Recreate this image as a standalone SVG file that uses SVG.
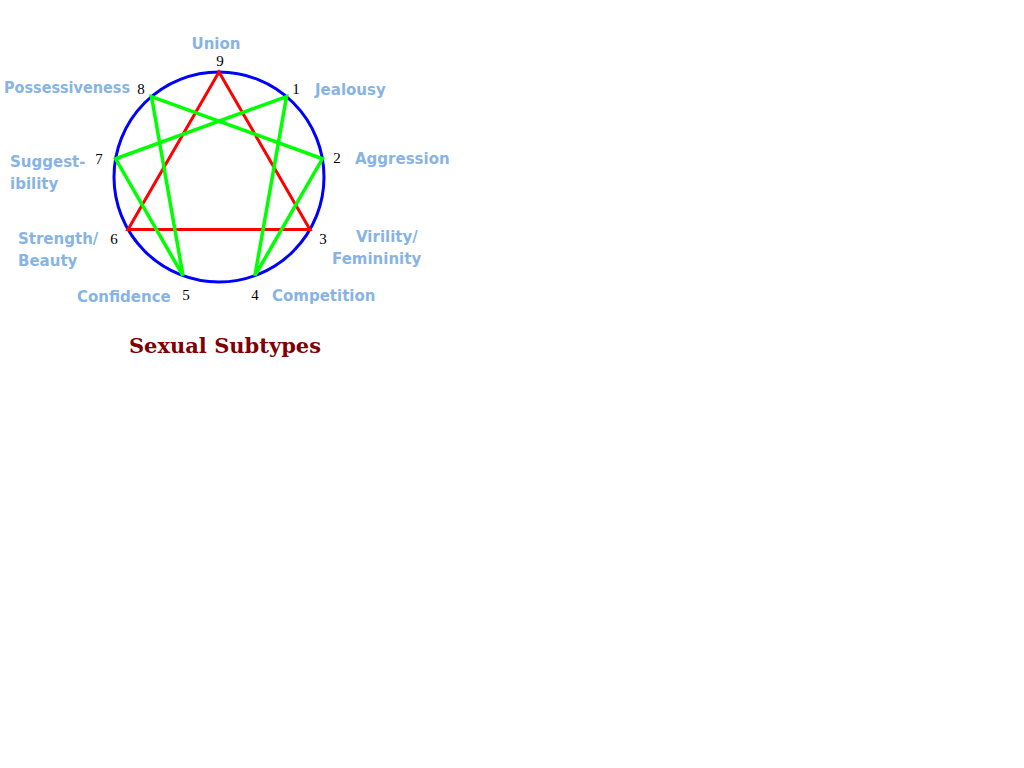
<svg xmlns="http://www.w3.org/2000/svg" width="1024" height="768" viewBox="0 0 1024 768">
<style>
.lbl{font-family:"DejaVu Sans",sans-serif;font-weight:bold;font-size:15px;fill:#88b4e4}
.num{font-family:"Liberation Serif",serif;font-size:15px;fill:#000}
.title{font-family:"DejaVu Serif",serif;font-weight:bold;font-size:21px;fill:#800000}
.red{stroke:#ff0000;stroke-width:3;fill:none;stroke-linejoin:miter}
.green{stroke:#00ff00;stroke-width:3.5;fill:none;stroke-linejoin:miter}
</style>
<rect width="1024" height="768" fill="#fff"/>
<g id="circle"><circle cx="219" cy="177" r="105" fill="none" stroke="#0000ff" stroke-width="3"/></g>
<g id="connectors">
<polygon class="red" points="219,72 309.9,229.5 128,229.5"/>
<polygon class="green" points="286.5,96.6 254.9,275.7 322.4,158.8 151.5,96.6 183,275.7 115.6,158.8"/>
</g>
<g id="n9"><text class="num" x="220" y="66" text-anchor="middle">9</text><text class="lbl" x="216" y="49" text-anchor="middle">Union</text></g>
<g id="n1"><text class="num" x="296" y="94" text-anchor="middle">1</text><text class="lbl" x="315" y="95">Jealousy</text></g>
<g id="n2"><text class="num" x="337" y="163" text-anchor="middle">2</text><text class="lbl" x="355" y="164">Aggression</text></g>
<g id="n3"><text class="num" x="323" y="244" text-anchor="middle">3</text><text class="lbl" x="356" y="242">Virility/</text><text class="lbl" x="332" y="264">Femininity</text></g>
<g id="n4"><text class="num" x="255" y="300" text-anchor="middle">4</text><text class="lbl" x="272" y="301">Competition</text></g>
<g id="n5"><text class="num" x="186" y="300" text-anchor="middle">5</text><text class="lbl" x="77" y="302">Confidence</text></g>
<g id="n6"><text class="num" x="114" y="244" text-anchor="middle">6</text><text class="lbl" x="18" y="244">Strength/</text><text class="lbl" x="18" y="266">Beauty</text></g>
<g id="n7"><text class="num" x="99" y="164" text-anchor="middle">7</text><text class="lbl" x="10" y="167">Suggest-</text><text class="lbl" x="10" y="189">ibility</text></g>
<g id="n8"><text class="num" x="141" y="94" text-anchor="middle">8</text><text class="lbl" x="4" y="93" textLength="126" lengthAdjust="spacingAndGlyphs">Possessiveness</text></g>
<text class="title" x="225" y="353" text-anchor="middle">Sexual Subtypes</text>
</svg>
